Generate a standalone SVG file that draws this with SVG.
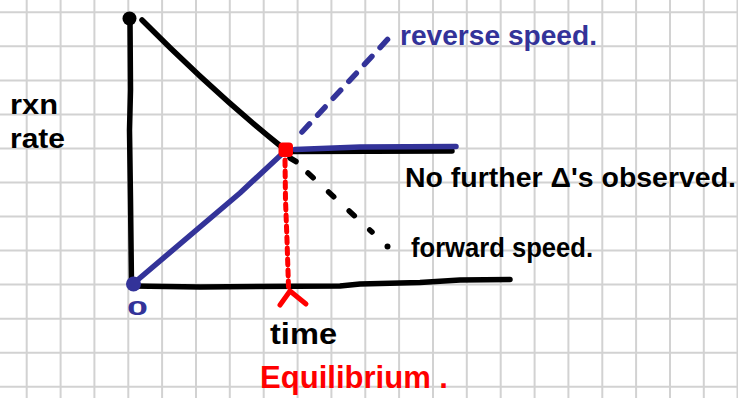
<svg xmlns="http://www.w3.org/2000/svg" width="738" height="398" viewBox="0 0 738 398">
<style>
.grid line{stroke:#d2d2d2;stroke-width:2}
.ink{fill:none;stroke-linecap:round;stroke-linejoin:round}
.k{stroke:#000;stroke-width:5.5}
.b{stroke:#333399;stroke-width:5.5}
.r{stroke:#ff0000;stroke-width:5}
.t{font-family:"Liberation Sans","DejaVu Sans",sans-serif;font-weight:bold}
</style>
<rect width="738" height="398" fill="#fff"/>
<g class="grid" id="grid">
<line x1="26.7" y1="0" x2="26.7" y2="398"/>
<line x1="60.6" y1="0" x2="60.6" y2="398"/>
<line x1="94.4" y1="0" x2="94.4" y2="398"/>
<line x1="128.3" y1="0" x2="128.3" y2="398"/>
<line x1="162.1" y1="0" x2="162.1" y2="398"/>
<line x1="196" y1="0" x2="196" y2="398"/>
<line x1="229.8" y1="0" x2="229.8" y2="398"/>
<line x1="263.7" y1="0" x2="263.7" y2="398"/>
<line x1="297.6" y1="0" x2="297.6" y2="398"/>
<line x1="331.4" y1="0" x2="331.4" y2="398"/>
<line x1="365.3" y1="0" x2="365.3" y2="398"/>
<line x1="399.1" y1="0" x2="399.1" y2="398"/>
<line x1="433" y1="0" x2="433" y2="398"/>
<line x1="466.8" y1="0" x2="466.8" y2="398"/>
<line x1="500.7" y1="0" x2="500.7" y2="398"/>
<line x1="534.6" y1="0" x2="534.6" y2="398"/>
<line x1="568.4" y1="0" x2="568.4" y2="398"/>
<line x1="602.3" y1="0" x2="602.3" y2="398"/>
<line x1="636.1" y1="0" x2="636.1" y2="398"/>
<line x1="670" y1="0" x2="670" y2="398"/>
<line x1="703.8" y1="0" x2="703.8" y2="398"/>
<line x1="737.5" y1="0" x2="737.5" y2="398"/>
<line x1="0" y1="12.3" x2="738" y2="12.3"/>
<line x1="0" y1="46.3" x2="738" y2="46.3"/>
<line x1="0" y1="80.4" x2="738" y2="80.4"/>
<line x1="0" y1="114.4" x2="738" y2="114.4"/>
<line x1="0" y1="148.5" x2="738" y2="148.5"/>
<line x1="0" y1="182.5" x2="738" y2="182.5"/>
<line x1="0" y1="216.5" x2="738" y2="216.5"/>
<line x1="0" y1="250.6" x2="738" y2="250.6"/>
<line x1="0" y1="284.6" x2="738" y2="284.6"/>
<line x1="0" y1="318.7" x2="738" y2="318.7"/>
<line x1="0" y1="352.7" x2="738" y2="352.7"/>
<line x1="0" y1="386.7" x2="738" y2="386.7"/>
</g>
<g id="connectors">
<path id="y-axis" class="ink k" d="M130,19 L130.5,90 L129.5,130 L130.5,200 L131.5,284"/>
<path id="x-axis" class="ink k" d="M133,286 L200,287 L340,286 L360,284 L420,282.5 L460,280 L510,279.5"/>
<path id="forward-curve" class="ink k" d="M142,20 Q215.5,94 283,148"/>
<path id="reverse-curve" class="ink b" d="M134,283 L240,193 L283,153"/>
<path id="eq-black" class="ink k" d="M290,151.5 L452,151"/>
<path id="eq-blue" class="ink b" d="M295,149.5 L360,147 L456,146.5"/>
<path id="reverse-dash" class="ink b" stroke-width="6" stroke-dasharray="11 12" d="M302,132 L388,39"/>
<path id="forward-dash" class="ink k" stroke-width="5.5" stroke-dasharray="7 21" d="M308,173 L372,232"/>
<path id="forward-dash2" class="ink k" d="M290,158 L296,161.5"/>
<path id="eq-drop" class="ink r" stroke-dasharray="6 5" d="M285,160 L285.5,200 L287,240 L288.5,287"/>
<path id="eq-mark" class="ink r" d="M280,305 L290,291 L306,304"/>
</g>
<g id="points">
<circle id="top-dot" cx="129.5" cy="18.5" r="7" fill="#000"/>
<circle id="origin-dot" cx="133.5" cy="284" r="7.5" fill="#333399"/>
<rect id="eq-dot" x="278.5" y="142.5" width="14.5" height="14.5" rx="4" fill="#ff0000"/>
<circle id="bullet1" cx="387.5" cy="246.5" r="3" fill="#000"/>
</g>
<g id="labels">
<text id="lbl-rxn" class="t" x="10" y="114" font-size="28" textLength="48" lengthAdjust="spacingAndGlyphs">rxn</text>
<text id="lbl-rate" class="t" x="10" y="148" font-size="28" textLength="55" lengthAdjust="spacingAndGlyphs">rate</text>
<text id="lbl-zero" class="t" x="127" y="315" font-size="20" fill="#333399" textLength="21" lengthAdjust="spacingAndGlyphs">0</text>
<text id="lbl-reverse" class="t" x="400" y="45" font-size="28" fill="#333399" textLength="197" lengthAdjust="spacingAndGlyphs">reverse speed.</text>
<text id="lbl-nofurther" class="t" x="405" y="187" font-size="28" textLength="331" lengthAdjust="spacingAndGlyphs">No further Δ's observed.</text>
<text id="lbl-forward" class="t" x="411" y="257" font-size="28" textLength="182" lengthAdjust="spacingAndGlyphs">forward speed.</text>
<text id="lbl-time" class="t" x="270" y="344" font-size="30" textLength="67" lengthAdjust="spacingAndGlyphs">time</text>
<text id="lbl-eq" class="t" x="260" y="388" font-size="32" fill="#ff0000" textLength="188" lengthAdjust="spacingAndGlyphs">Equilibrium .</text>
</g>
</svg>
